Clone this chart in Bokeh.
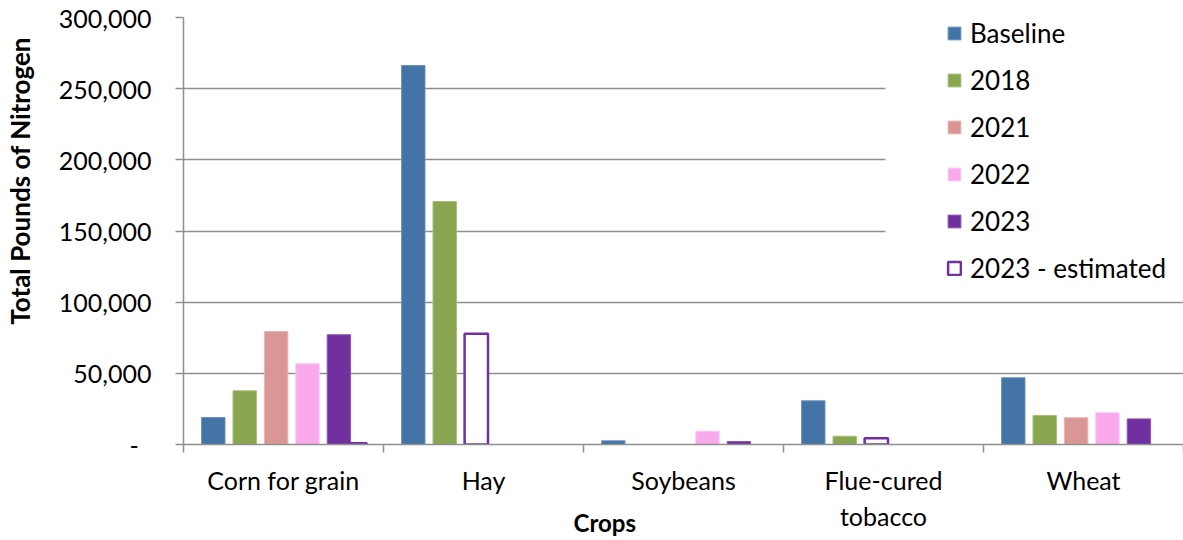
from bokeh.plotting import figure
from bokeh.models import (ColumnDataSource, FixedTicker, NumeralTickFormatter,
                          Range1d, Legend, LegendItem, BoxAnnotation)
from bokeh.embed import file_html
from bokeh.resources import INLINE

nan = float("nan")

# ---- data ----
crops = ["Corn for grain", "Hay", "Soybeans", "Flue-cured\ntobacco", "Wheat"]
series_names = ["Baseline", "2018", "2021", "2022", "2023"]
baseline = [19000, 266300, 2600, 30700, 46900]
y2018 = [37700, 170700, nan, 5800, 20400]
y2021 = [79400, nan, nan, nan, 18800]
y2022 = [56700, nan, 9300, nan, 22300]
y2023 = [77100, nan, 2100, nan, 18000]
estimated_2023 = [800, 77800, nan, 4400, nan]
y_ticks = [0, 50000, 100000, 150000, 200000, 250000, 300000]

# ---- styles / layout ----
colors = ["#4473A6", "#8AA54F", "#DA9694", "#F8AAED", "#7030A0"]
edge_colors = ["#6F92BF", "#A6BD77", "#E8B4B2", "#FBC8F3", "#8D57B5"]
slot_offsets = [-0.351, -0.194, -0.037, 0.12, 0.277]
est_offsets = [0.357, -0.036, 0.0, -0.036, 0.0]
bar_w = 0.117
FONT = "Lato"
GRID = "#8F8F8F"
NB = "\u00a0"

p = figure(width=1183, height=540, output_backend="svg", toolbar_location=None,
           x_range=Range1d(0, len(crops)), y_range=Range1d(0, 300000),
           min_border_left=183, min_border_right=0, min_border_top=17,
           min_border_bottom=96)
p.outline_line_color = None
p.background_fill_color = "white"

all_series = [baseline, y2018, y2021, y2022, y2023]
items = []
for name, vals, col, ecol, off in zip(series_names, all_series, colors, edge_colors, slot_offsets):
    xs, tops = [], []
    for i, v in enumerate(vals):
        if v == v:
            xs.append(i + 0.5 + off)
            tops.append(v)
    src = ColumnDataSource(dict(x=xs, top=tops))
    r = p.vbar(x="x", top="top", width=bar_w, bottom=0, source=src,
               fill_color=col, line_color=ecol, line_width=1)
    items.append(LegendItem(label=name, renderers=[r]))

xs, tops = [], []
for i, v in enumerate(estimated_2023):
    if v == v:
        xs.append(i + 0.5 + est_offsets[i])
        tops.append(v)
src = ColumnDataSource(dict(x=xs, top=tops))
r = p.vbar(x="x", top="top", width=bar_w, bottom=0, source=src,
           fill_color="white", line_color="#7030A0", line_width=2.5)
items.append(LegendItem(label="2023 - estimated", renderers=[r]))

# ---- axes ----
xa = p.xaxis[0]
xa.ticker = FixedTicker(ticks=[i + 0.5 for i in range(len(crops))],
                        minor_ticks=list(range(len(crops) + 1)))
xa.major_label_overrides = {i + 0.5: c for i, c in enumerate(crops)}
xa.major_tick_out = 0
xa.major_tick_in = 0
xa.minor_tick_out = 8
xa.minor_tick_in = 0
xa.minor_tick_line_color = GRID
xa.minor_tick_line_width = 1.5
xa.axis_line_color = GRID
xa.axis_line_width = 1.5
xa.major_label_text_font = FONT
xa.major_label_text_font_size = "25px"
xa.major_label_text_color = "black"
xa.major_label_standoff = 12
xa.axis_label = "Crops" + NB * 27
xa.axis_label_text_font = FONT
xa.axis_label_text_font_size = "24px"
xa.axis_label_text_font_style = "bold"
xa.axis_label_text_color = "black"
xa.axis_label_standoff = -26

ya = p.yaxis[0]
ya.ticker = FixedTicker(ticks=y_ticks, minor_ticks=[])
ya.formatter = NumeralTickFormatter(format="0,0")
ya.major_label_overrides = {0: "-" + NB * 2}
ya.major_tick_out = 8
ya.major_tick_in = 0
ya.major_tick_line_color = GRID
ya.major_tick_line_width = 1.5
ya.minor_tick_line_color = None
ya.axis_line_color = GRID
ya.axis_line_width = 1.5
ya.major_label_text_font = FONT
ya.major_label_text_font_size = "25px"
ya.major_label_text_color = "black"
ya.major_label_standoff = 24
ya.axis_label = NB * 16 + "Total Pounds of Nitrogen"
ya.axis_label_text_font = FONT
ya.axis_label_text_font_size = "26px"
ya.axis_label_text_font_style = "bold"
ya.axis_label_text_color = "black"
ya.axis_label_standoff = 20

p.xgrid.grid_line_color = None
p.ygrid.grid_line_color = GRID
p.ygrid.grid_line_width = 1.5

# white area behind the legend (as in the reference)
p.add_layout(BoxAnnotation(left=702, right=1000, bottom=152, top=427,
                           left_units="screen", right_units="screen",
                           bottom_units="screen", top_units="screen",
                           fill_color="white", fill_alpha=1.0, line_color=None,
                           level="underlay"))

legend = Legend(items=items, location=(763, 160), orientation="vertical",
                label_text_font=FONT, label_text_font_size="26px",
                label_text_color="black", glyph_width=16, glyph_height=16,
                label_height=30, label_standoff=8, spacing=15, padding=0,
                margin=0, border_line_color=None, background_fill_color="white",
                background_fill_alpha=1.0)
p.add_layout(legend)

open("out.html", "w").write(file_html(p, INLINE))
